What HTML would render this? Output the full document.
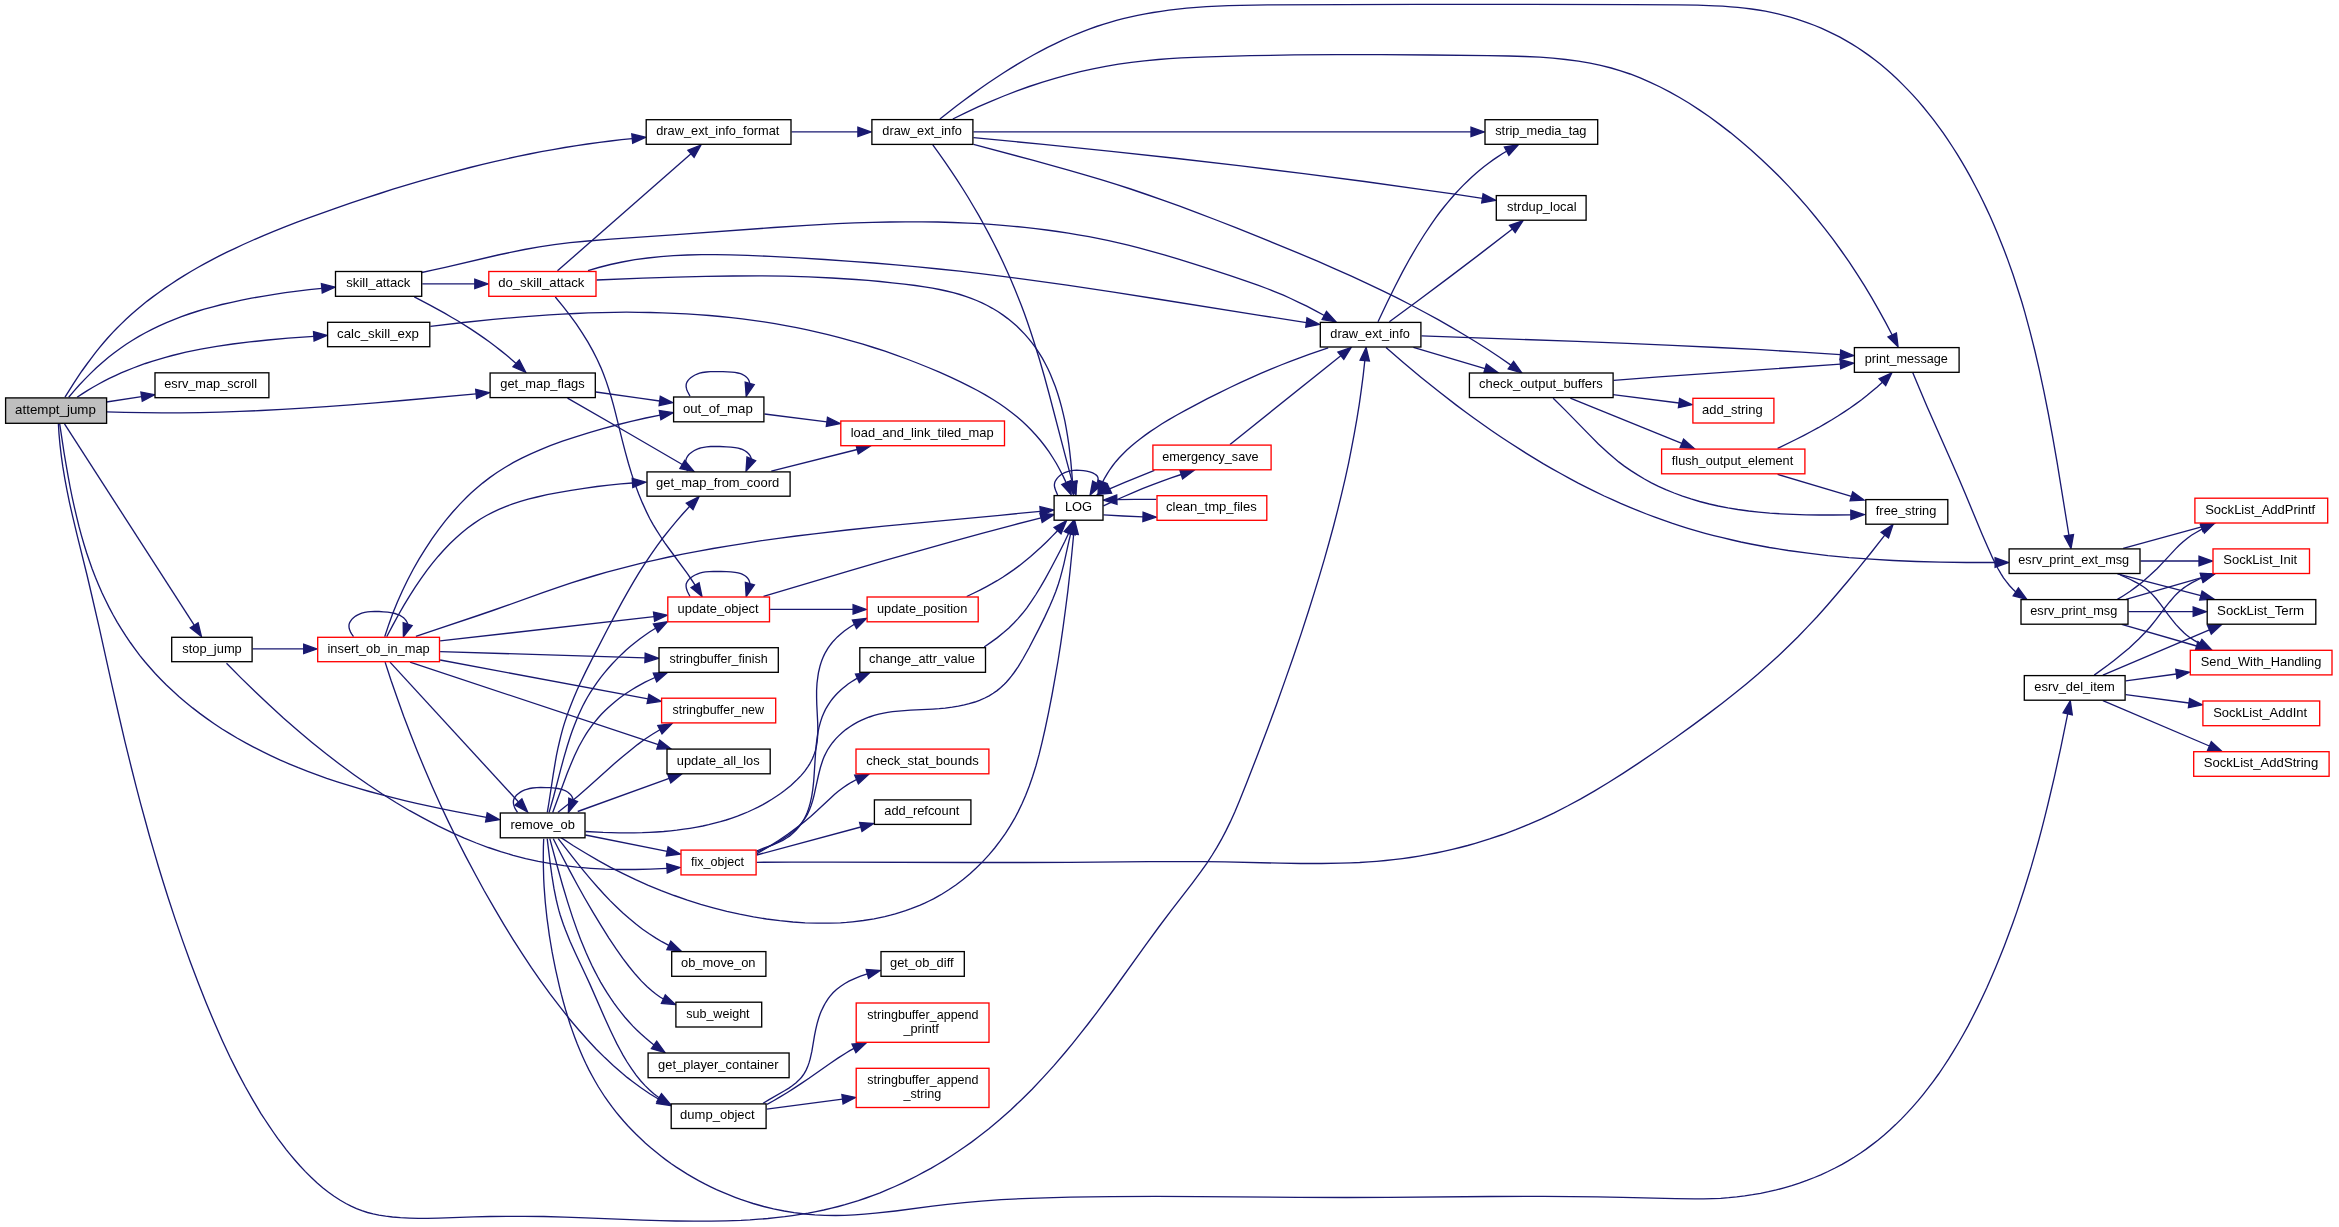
<!DOCTYPE html><html><head><meta charset="utf-8"><title>attempt_jump call graph</title><style>html,body{margin:0;padding:0;background:#fff;overflow:hidden;}svg{display:block;will-change:transform;}text{font-family:"Liberation Sans",sans-serif;font-size:13.33px;fill:#000;}</style></head><body>
<svg xmlns="http://www.w3.org/2000/svg" width="2339" height="1227" viewBox="0 0 2339 1227">
<rect x="0" y="0" width="2339" height="1227" fill="#fff"/>
<g fill="none" stroke="#191970" stroke-width="1.33">
<path d="M65,397.2 73.5,383.6 77.9,376.9 81.9,371 86.6,364.5 90.8,358.8 95.1,353.2 99.5,347.7 104,342.3 107.9,337.8 112.6,332.6 116.8,328.3 121,324.1 126,319.2 131.2,314.5 136.4,310 141.8,305.5 147.2,301.1 152.8,296.9 159.2,292.2 164.9,288.1 171.5,283.7 177.3,279.9 184.1,275.6 190.9,271.5 197.8,267.5 204.8,263.6 211.8,259.9 218.9,256.2 226.9,252.2 235.1,248.3 243.2,244.5 253.3,240 263.5,235.6 273.7,231.4 284.9,226.9 297.1,222.2 309.4,217.7 336.8,207.8 351.1,202.9 365.4,198.1 379.7,193.5 393,189.2 406.4,185.1 419.9,181.1 433.3,177.3 445.9,173.8 470,167.5 482.6,164.3 494.3,161.6 517.7,156.4 529.4,154 541.2,151.7 553,149.6 564.8,147.5 576.7,145.6 587.6,144 599.5,142.3 610.5,141 621.5,139.7 632.2,138.6"/>
<path d="M68.7,397.3 73.9,391.1 79.3,385 84.9,379.1 90.6,373.4 96.4,367.8 102.4,362.5 108.5,357.3 114,353 120.5,348.3 126.2,344.3 132.1,340.5 138.9,336.4 145,333 152,329.3 159.2,325.9 166.5,322.6 173.9,319.6 181.4,316.7 188.9,314 196.6,311.5 204.3,309.2 213,306.8 221.8,304.5 231.7,302.3 241.6,300.2 251.5,298.2 262.4,296.3 274.4,294.3 285.3,292.7 297.3,291.1 309.2,289.7 321.8,288.3"/>
<path d="M77.1,397.3 82.2,393.9 87.3,390.6 92.5,387.5 98.7,384 104,381.1 109.3,378.4 114.8,375.8 121.1,372.9 126.7,370.6 133.2,368 138.8,365.9 145.4,363.5 152,361.3 158.7,359.3 165.5,357.3 172.3,355.5 185.9,352.2 200.8,349.2 216.7,346.4 232.7,344 249.8,341.9 268,340 288.1,338.2 313.8,336.3"/>
<path d="M106.5,402 141.6,396.7"/>
<path d="M106.5,411.8 124.6,412.4 142.7,412.7 161.7,412.9 180.8,412.8 199.9,412.6 220,412.1 240,411.4 261.1,410.5 282.2,409.4 303.2,408.1 326.3,406.6 350.3,404.8 375.3,402.8 402.4,400.5 476.1,393.9"/>
<path d="M64.5,423.9 194.2,625.2"/>
<path d="M59.7,423.9 64,452.3 66,464.2 68.1,476.1 70.1,487 72.1,496.9 74.3,506.8 76.6,516.7 79,526.5 81.4,535.3 83.9,544 86.6,552.7 89.5,561.3 92.2,568.9 95.4,577.3 98.5,584.8 102.1,593 105.6,600.3 109.1,607.4 112.9,614.5 117.3,622.3 121.5,629.2 125.8,635.9 130.3,642.5 134.9,648.9 139.7,655.3 144.7,661.5 149.9,667.5 155.2,673.5 160.7,679.2 166.4,684.9 172.9,691.1 178.8,696.4 185.6,702.2 192.6,707.9 199.7,713.4 206.9,718.6 214.2,723.7 221.7,728.7 229.3,733.4 237,738 245.7,742.9 253.6,747.1 262.6,751.7 270.7,755.6 279.8,759.8 289,763.8 298.3,767.7 307.7,771.3 317.2,774.9 326.7,778.3 337.3,781.8 347.9,785.2 358.6,788.4 369.4,791.5 381.1,794.7 392.9,797.7 404.7,800.6 416.5,803.4 429.3,806.2 442.1,808.9 455.8,811.6 470.5,814.4 486.4,817.4"/>
<path d="M58.4,423.9 59,433.9 60,444.9 61.3,455.8 62.8,466.7 64.8,478.6 67,490.3 69.6,503.1 72.7,516.7 77.1,535.2 87,575 91.8,595.5 99,626.7 112.4,687.2 118.4,713.5 125,741.8 131.7,769 136.1,786.4 140.4,802.9 144.9,819.3 149.4,835.7 153.9,851.1 158.4,866.5 163.1,881.8 167.9,897 175.1,918.9 182.6,940.6 190.4,962.2 198.2,982.8 206.3,1003.2 214.4,1022.6 222.5,1040.9 230.1,1057.2 237.7,1072.4 245.2,1086.5 253.1,1100.4 260.8,1113.3 265.2,1120 269.1,1125.9 273.6,1132.5 277.7,1138.3 281.9,1143.9 286.2,1149.6 290.7,1155.1 294.6,1159.7 299.9,1165.8 305.4,1171.6 311.1,1177.3 316.9,1182.7 323,1187.9 328.5,1192.2 334.1,1196.2 339.9,1200 345.9,1203.5 351.1,1206.2 356.5,1208.6 361.9,1210.7 367.5,1212.5 373.1,1213.9 378.9,1215.1 385.7,1216.2 392.5,1217 400.5,1217.7 409.4,1218.1 418.4,1218.4 427.5,1218.4 438.6,1218.2 473.9,1216.9 489.9,1216.5 506.9,1216.3 523.9,1216.3 543.8,1216.5 564.7,1217.1 585.7,1217.8 642.8,1220.1 659.9,1220.6 675.9,1221 694,1221.2 711,1221.2 726,1220.9 741,1220.4 750,1219.9 758.9,1219.2 767.9,1218.5 775.8,1217.7 784.7,1216.7 792.5,1215.6 800.4,1214.4 808.2,1213.1 816,1211.6 823.8,1210 831.6,1208.2 838.3,1206.5 845,1204.7 851.7,1202.7 858.4,1200.6 866,1198 872.6,1195.6 880.1,1192.8 887.5,1189.7 894.9,1186.5 902.3,1183.2 909.5,1179.7 916.7,1176 923.8,1172.2 930.9,1168.3 937.9,1164.2 944.8,1160.1 951.6,1155.7 958.3,1151.3 964.9,1146.7 971.5,1142.1 977.9,1137.3 988.9,1128.7 999.6,1119.7 1010.7,1109.9 1021.5,1099.7 1032.1,1089.2 1043,1077.6 1053.7,1065.9 1064.7,1053 1072.3,1043.8 1080.4,1033.7 1088.4,1023.5 1096.9,1012.3 1113,990.5 1145.2,945.7 1158.8,927 1171.5,910.2 1192.2,883.3 1200.5,872.2 1206.8,863.3 1212.2,855 1216.9,847.4 1221.3,839.7 1225.9,830.9 1230.3,821.9 1234.8,811.9 1239.5,800.8 1246.6,783.1 1257.9,754 1267.5,728.8 1276.5,704.4 1284.9,680.9 1293.2,657.3 1301.2,633.6 1308.3,611.7 1314,593.6 1319.3,576.4 1324.4,559.1 1329,542.7 1333.5,526.3 1337.7,509.9 1341.5,494.3 1345.2,478.7 1348.6,463.1 1351.5,448.4 1354.3,433.7 1356.9,418.9 1359.3,404.1 1361.4,389.2 1363.2,375.3 1364.8,360.7"/>
<path d="M422.3,283.9 474.8,283.9"/>
<path d="M414.3,296.9 429.5,304.8 444.6,313.1 451.5,317.2 458.5,321.3 471.3,329.4 478,333.9 483.8,337.9 489.6,342 495.2,346.3 500.8,350.6 506.3,355 510.9,358.9 516.1,363.4"/>
<path d="M421.8,272.5 432.5,270.2 445.2,267.4 498,255 511.7,252.1 524.5,249.5 539.3,246.9 554.2,244.7 570,242.7 587.9,241 610.9,239.1 672.8,234.9 773.8,227.5 806.8,225.3 836.8,223.7 854.8,222.9 872.8,222.3 889.9,222 905.9,221.8 921.9,221.8 937.9,222 952.9,222.5 967.9,223.1 979.9,223.7 990.9,224.4 1002.8,225.3 1013.8,226.3 1024.7,227.4 1035.7,228.6 1046.6,230 1057.5,231.5 1068.3,233.1 1078.2,234.8 1089,236.7 1098.9,238.6 1108.7,240.7 1118.5,242.9 1128.2,245.2 1138.9,247.9 1151.6,251.3 1164.2,254.8 1177.7,258.8 1192.1,263.3 1210.3,269.1 1230.2,275.7 1246.3,281.1 1258.5,285.4 1266.8,288.5 1275.2,291.8 1283.4,295.2 1290.7,298.5 1298.7,302.3 1306.8,306.2 1315.7,310.8 1324.3,315.5"/>
<path d="M430.4,326.4 463.3,322.5 493.2,319.4 522.2,316.8 549.2,314.9 562.3,314.1 575.3,313.5 588.3,312.9 601.4,312.6 614.4,312.3 626.4,312.2 638.4,312.3 650.4,312.5 662.4,312.8 674.4,313.3 686.4,313.9 697.4,314.6 709.4,315.5 720.3,316.5 731.3,317.6 742.2,318.9 753.1,320.4 764,321.9 774.9,323.7 785.7,325.6 796.6,327.7 807.4,329.9 818.2,332.3 827.9,334.7 839.6,337.6 851.3,340.8 862.9,344.2 873.5,347.5 885,351.2 895.4,354.8 906.8,359 917.1,363 928.3,367.5 939.4,372.2 950.5,377.2 960.5,381.9 969.5,386.3 977.5,390.5 985.3,394.9 993,399.5 999.6,403.8 1005.3,407.8 1011.6,412.5 1017,416.8 1022.2,421.3 1027.2,426 1031.4,430.2 1036,435.3 1040.5,440.5 1044.8,446 1048.9,451.7 1052.7,457.5 1056.4,463.5 1059.8,469.7 1063.1,476.1 1066.1,482.6"/>
<path d="M557.5,270.8 691,153.8"/>
<path d="M588,270.6 598.7,267.5 610.4,264.5 622.2,262 635,259.7 647.8,258 660.7,256.6 673.6,255.6 687.5,255 701.5,254.6 715.5,254.6 730.5,254.8 747.5,255.4 770.6,256.4 798.7,257.9 824.7,259.5 850.8,261.3 873.8,263 895.8,264.9 917.8,266.9 938.8,269 959.7,271.2 980.6,273.6 1002.5,276.3 1025.4,279.3 1067,285.2 1113.6,292.1 1157.2,299 1258.1,315.1 1306.4,322.6"/>
<path d="M596.6,280 642.8,278.2 675.9,277.1 705.8,276.4 732.8,276 759.8,275.9 784.8,276.2 808.8,276.9 831.8,278 855.9,279.5 868,280.4 880.1,281.5 892.2,282.8 904.3,284.1 915.4,285.5 924.5,286.8 932.5,288.2 939.5,289.5 946.4,291 953.2,292.6 959.9,294.5 965.6,296.3 971.2,298.3 976.6,300.5 982,302.9 987.3,305.5 992.4,308.3 998.2,311.8 1003.1,315.1 1007.8,318.6 1012.3,322.3 1016.7,326.1 1020.9,330.2 1024.9,334.4 1028.8,338.9 1032.4,343.4 1035.9,348.2 1039.2,353.1 1042.3,358.2 1045.2,363.5 1047.9,368.8 1050.4,374.3 1052.7,379.9 1055.3,386.6 1057.6,393.3 1059.7,400.2 1061.6,407.1 1063.3,414.1 1064.9,421.1 1066.2,428.2 1067.6,436.3 1068.8,444.3 1069.8,452.4 1070.8,461.4 1071.7,471.4 1072.5,481.6"/>
<path d="M555.3,297 563,306.4 569.8,315.2 576.4,324.2 582.5,333.3 587.8,341.9 592.7,350.6 597.2,359.5 600.9,367.6 603.5,374.1 606.3,381.6 608.8,389.2 611.4,397.8 613.6,405.6 615.6,413.4 622.4,440.9 625.2,451.7 628.4,463.3 631.6,473.9 635.1,484.4 638.6,493.7 642.4,502.9 646.5,511.9 649.6,518.2 653,524.3 656.5,530.2 660.9,537 664.8,542.8 668.9,548.5 687.4,573.7 691.4,579.5 695.1,585.1"/>
<path d="M595.9,392 639.4,398.2 659.7,401"/>
<path d="M567.5,398.2 629,433.5 682.3,464.5"/>
<path d="M252.7,648.9 303.7,648.9"/>
<path d="M226.5,663.3 241.2,678.1 255.5,692.1 269.3,705.1 283.4,718 297.8,730.5 311.7,742.2 325.8,753.6 339.4,764 354,774.7 368,784.5 382.3,794 395.9,802.5 409.7,810.7 423.8,818.4 438,825.8 451.5,832.4 464.3,838.1 476.3,843 488.4,847.5 500.7,851.6 513.1,855.3 525.6,858.6 538.3,861.4 551,863.7 563.9,865.7 576.8,867.2 590.8,868.3 604.9,869.1 620,869.5 635.1,869.5 650.2,869.1 667,868.3"/>
<path d="M353.5,636.6 351.8,634.1 350.7,632.4 349.9,630.6 349.3,628.8 349,627 349,625.2 349.1,624.3 349.7,622.6 350.6,621 351.8,619.4 353.2,618 355.6,616.1 357.3,615.1 360,613.8 361.8,613.1 364.7,612.3 367.6,611.8 370.7,611.6 374.8,611.4 379.1,611.5 383.5,611.8 387.8,612.1 392,612.8 395,613.5 397.9,614.5 399.6,615.2 402.1,616.7 403.6,617.8 404.9,619.1 406,620.5 406.9,622 407.3,622.8 407.7,624.2"/>
<path d="M384.7,636.7 388.8,624.4 392.9,613.1 397.4,602 402.3,591 407.5,580.2 413.1,569.5 419,559.1 425.4,548.8 432.1,538.7 438.6,529.6 445.3,520.8 452.5,512.3 459.9,504.1 466.9,497 471.3,492.8 475,489.5 482.6,483.1 489.7,477.6 497,472.5 504.5,467.7 513.1,462.7 521.8,458.1 530.8,453.8 540,449.8 550.2,445.7 562.5,441.2 574.9,437.1 588.4,432.9 602.9,428.6 616.5,425 631.1,421.4 645.8,418 660.1,415.1"/>
<path d="M386.7,636.7 392.7,625.4 398.5,614.8 404,605.2 409.8,595.6 415.2,587.1 421,578.6 426.9,570.4 432.5,563.2 438.3,556.2 443.6,550.2 449.8,543.7 455.6,538.2 461.5,533 467.6,528 474,523.4 480.5,519 486.5,515.5 492.6,512.3 498.9,509.4 506.2,506.3 512.8,503.9 520.5,501.4 528.2,499.2 537.1,497 547.1,494.7 558.1,492.6 571.1,490.3 584.1,488.3 597,486.5 608.9,485.1 620.9,483.9 632.5,483"/>
<path d="M415.9,636.4 436.7,629.3 476.6,616 492.7,610.5 507.9,605.2 542.8,592.7 558,587.4 571.3,582.9 583.7,579 595.2,575.5 606.8,572.2 618.3,569.1 630.9,565.8 643.6,562.7 656.2,559.8 668.9,557 682.7,554.2 697.4,551.4 713.1,548.5 728.9,545.8 744.8,543.3 761.6,540.7 778.4,538.4 796.3,536 814.2,533.8 847.1,530 884,526.2 919,522.8 999.8,515.3 1040.3,511.3"/>
<path d="M440.1,640.9 654.1,616.7"/>
<path d="M440.1,651.6 645.1,657.9"/>
<path d="M440.1,660 648,698.9"/>
<path d="M410,662.1 658.3,744.6"/>
<path d="M390,662.1 518.5,802"/>
<path d="M385.1,662.1 391,680.3 397.3,698.3 403.7,716.3 410.5,734.1 417.5,751.7 424.8,769.3 432.3,786.7 440.5,804.9 448.6,822.1 457,839.2 465.6,856.1 475,873.8 484.1,890.5 494.1,907.9 503.8,924.4 513.3,939.8 522.5,954.2 531.4,967.7 540.6,980.9 550,993.9 559.8,1006.7 569.1,1018.5 578.2,1029.2 587.5,1039.7 596.3,1049.2 604.8,1057.6 613.5,1065.8 622.5,1073.6 627.1,1077.4 631.8,1081 640.6,1087.5 649.7,1093.7 658.8,1099.2"/>
<path d="M517.5,812.4 515.9,809.8 514.9,808.1 514.2,806.3 513.6,804.4 513.4,802.7 513.4,800.9 513.6,800 514.2,798.4 515.2,796.8 516.4,795.3 517.9,793.9 520.4,792.1 522.1,791.1 524.8,789.9 526.7,789.3 529.6,788.5 532.5,788 536.6,787.6 540.7,787.5 546.1,787.6 550.4,787.7 554.7,788.1 557.9,788.5 560.9,789.1 563.7,790 565.5,790.8 567.9,792.2 569.3,793.4 570.6,794.7 571.7,796.1 572.5,797.7 572.8,798.5 573.2,800"/>
<path d="M547.3,812.4 549.1,801.5 553.2,774.6 555.2,762.7 556.4,755.7 557.8,748.8 559.4,742 560.8,736.1 562.6,729.4 564.3,723.6 566.5,717 568.8,710.4 571.3,703.9 573.9,697.4 577.1,690.1 580.4,682.8 585.6,671.9 591.9,659.4 606.7,630.8 615.1,614.9 621.7,602.6 627.6,592.1 633.1,582.6 638.8,573.1 644.7,563.8 650.9,554.7 657.2,545.6 663.2,537.5 670.1,528.8 676.5,521.1 683.1,513.5 689.7,506.3"/>
<path d="M549.1,812.4 553.5,797 560.9,768.7 563.8,757.9 567.2,746.3 570.2,736.7 572.2,731 574.3,725.4 576.5,719.9 578.4,715.3 580.5,710.7 582.6,706.3 584.9,701.9 587.3,697.5 590.4,692.4 593.7,687.4 597.1,682.4 600.6,677.6 604.4,672.9 608.3,668.3 612.3,663.8 616.5,659.4 621.5,654.4 625.9,650.3 630.5,646.3 635.2,642.5 640,638.8 644.9,635.2 649.9,631.8 655.6,628.2"/>
<path d="M552.7,812.4 556.2,803 567.1,773.6 570.9,764.2 574.5,755.8 578.8,746.8 583.1,739 585.7,734.7 587.8,731.4 590.1,728.1 592.4,724.9 594.9,721.8 598.1,718 601.4,714.3 604.9,710.8 607.8,708 611.5,704.7 615.3,701.4 619.3,698.3 623.4,695.3 627.5,692.5 631.8,689.7 636.1,687.1 640.6,684.6 645.1,682.2 649.6,680 655,677.5"/>
<path d="M558,812.3 567.5,804.8 577.5,796.4 587.5,787.7 614.8,763.3 622.5,756.7 629.6,750.9 637.5,744.6 644.8,739.3 652.4,734.3 659.9,729.7"/>
<path d="M577.7,811.5 669.2,778.4"/>
<path d="M585.5,831.5 603.1,832.4 619.1,832.8 634.2,832.8 642.3,832.7 649.4,832.4 656.6,832 663.7,831.5 670.8,830.8 676.8,830.2 683.9,829.2 689.9,828.3 696.9,827.1 702.8,826 708.7,824.7 714.6,823.2 720.4,821.7 726.2,820 731.9,818.1 737.5,816.1 743.1,813.9 747.7,812 753.1,809.5 757.6,807.4 762.9,804.6 767.2,802.1 772.3,799 776.5,796.3 780.6,793.5 784.6,790.5 790.9,785.4 796.1,780.6 798.9,777.8 801,775.6 804.8,771.1 808.1,766.3 809.7,763.8 811.1,761.3 812.4,758.7 813.5,756.1 814.5,753.4 815.4,750.7 816.3,746.9 817.1,742.1 817.5,738.2 817.8,733.1 817.8,728 817.7,722.8 816.8,705 816.6,697.6 816.6,690.4 817,683.2 817.9,676.3 818.5,672.4 819.2,669.5 820.1,665.7 821,662.9 821.9,660.2 823,657.5 824.2,654.9 825.5,652.3 828,648.2 829.6,645.8 831.4,643.5 833.3,641.2 835.3,639.1 837.4,636.9 839.6,634.9 844.3,631 849.3,627.5 854.4,624.3"/>
<path d="M585.4,835 667.2,851.4"/>
<path d="M560.7,837.4 573.4,845.7 585.4,853 598.4,860.6 610.6,867.3 623.1,873.6 635.6,879.6 648.3,885.3 661.2,890.6 674.2,895.5 687.4,900.1 700.7,904.3 713.2,907.8 726.8,911.3 739.6,914.1 753.5,916.8 766.5,919 779.7,920.7 792.9,922 805.1,922.8 817.2,923.2 829.4,923.2 840.5,922.8 846.5,922.4 852.5,921.8 863.4,920.5 874.1,918.8 880,917.6 884.8,916.6 890.5,915.2 895.3,913.9 900.9,912.2 905.6,910.7 911.1,908.7 915.7,906.9 920.2,905.1 924.7,903.1 929.1,901 933.5,898.8 937.9,896.4 942.1,894 948.8,889.8 956.2,884.7 963.4,879.3 970.3,873.5 976.2,868 982.7,861.6 988.9,854.9 994.7,848 1000.3,840.7 1005.5,833.3 1010.4,825.7 1014.5,818.7 1018.2,811.6 1022.1,803.5 1025.7,795.3 1029.3,786 1032.6,776.5 1035.9,766 1039.1,754.4 1042,742.7 1045.1,729 1048.6,712.3 1051.9,695.5 1055.1,677.7 1058,661 1060.8,643.2 1063.2,626.3 1065.6,608.5 1067.9,590.6 1070,571.7 1071.9,552.8 1073.7,534.1"/>
<path d="M558.2,838.7 576.8,862.4 584.5,871.8 591,879.6 597.7,887.3 603.8,894 610.1,900.6 616.6,907 623.2,913.3 629.3,918.6 636.2,924.3 642.6,929.2 649.2,933.8 655.9,938.1 661.9,941.7 668.8,945.4"/>
<path d="M553.3,838.7 561.5,855 569.4,870.1 577,884.3 584.8,898.3 592.9,912.2 600.8,925.2 608.9,938.1 616.3,949.2 622.8,958.4 629,966.5 635.4,974.3 641.5,981.1 647.2,986.8 652.4,991.3 655.5,993.8 657.9,995.5 660.4,997.2 663.4,999"/>
<path d="M549.8,838.7 557.6,867.5 562.5,885 567.5,901.6 572.5,917.1 577.6,931.6 580.5,939.2 583.2,945.8 585.9,952.3 588.8,958.8 591.8,965.2 594.5,970.6 597.7,976.8 600.6,982.1 604.2,988.1 607.3,993.2 610.6,998.2 614,1003.1 617.5,1007.9 621.2,1012.6 624.9,1017.2 628.9,1021.7 632.9,1026.1 636.5,1029.7 640.8,1033.8 645.3,1037.8 650,1041.7 654,1044.9"/>
<path d="M547.2,838.7 550.1,862.7 551.9,875.7 554,888.7 556.2,899.5 557.6,905.4 558.8,910.2 560.2,915 561.8,919.8 563.4,924.5 565.5,930.1 570,941.2 575.3,953 586,975.7 590.2,984.9 604.4,1017.2 610.2,1030 613.7,1037.3 616.8,1043.6 620.1,1049.8 623,1055.1 627.1,1062 631.5,1068.7 636.1,1075.1 640.4,1080.5 645.1,1085.6 649.3,1089.8 653.8,1093.7 656.1,1095.5 659.1,1097.7"/>
<path d="M543.7,838.7 543.4,846.7 543.3,854.7 543.3,862.7 543.5,870.7 543.7,878.7 544.1,886.6 544.7,894.6 545.3,902.5 547,918.3 548.1,926.2 549.3,935.1 550.6,943 552.1,951.9 553.8,960.7 555.6,969.6 559.4,986.3 561.3,994.2 563.4,1002 565.6,1009.8 567.7,1016.5 570.1,1024.2 572.4,1030.9 574.8,1037.5 577.3,1044.1 580,1050.6 582.8,1057 585.7,1063.3 588.8,1069.6 592.1,1075.8 595,1081 598.5,1087 601.7,1092 604.9,1097 608.4,1101.9 611.9,1106.7 615.5,1111.4 619.3,1116 623.8,1121.3 627.8,1125.7 631.9,1130 636.1,1134.3 641.1,1139.1 645.5,1143.2 650.8,1147.8 655.4,1151.6 660.9,1156 665.6,1159.6 671.3,1163.7 676.3,1167.1 682.2,1170.9 687.3,1174.1 693.3,1177.6 698.6,1180.6 704.8,1183.9 710.2,1186.6 716.5,1189.6 723,1192.4 728.5,1194.7 735.1,1197.3 740.7,1199.4 747.4,1201.6 753.1,1203.5 763.7,1206.5 773.5,1208.8 784.2,1211 794.1,1212.7 805,1214 814.9,1214.9 824.8,1215.4 835.7,1215.5 844.7,1215.4 854.6,1214.9 864.6,1214.2 875.5,1213.2 895.5,1211 932.4,1206.2 947.3,1204.4 964.3,1202.6 981.2,1201.1 1001.2,1199.7 1022.1,1198.6 1045.1,1197.8 1070.1,1197.1 1090,1196.8 1111,1196.6 1156.1,1196.4 1199.1,1196.6 1298.2,1197.4 1346.3,1197.5 1388.3,1197.3 1490.4,1196.5 1543.4,1196.4 1571.4,1196.6 1597.4,1196.9 1622.4,1197.4 1675.5,1198.7 1694.6,1198.9 1703.6,1198.9 1712.6,1198.6 1720.7,1198.3 1728.7,1197.7 1736.7,1196.9 1744.7,1195.9 1752.6,1194.7 1760.6,1193.3 1768.5,1191.7 1776.3,1189.9 1784.1,1187.8 1791.8,1185.6 1799.4,1183.1 1806.9,1180.4 1814.4,1177.5 1820.8,1174.8 1828,1171.5 1835.1,1168 1842.1,1164.3 1848.1,1160.9 1854,1157.3 1860.6,1153 1866.2,1149.1 1872.5,1144.4 1877.9,1140.2 1883.9,1135.2 1889.8,1130 1895.6,1124.6 1901.2,1119.1 1906.7,1113.4 1912,1107.6 1917.9,1100.9 1922.9,1094.8 1928.5,1087.7 1933.3,1081.3 1938.6,1074 1943.7,1066.5 1948.7,1058.9 1953.5,1051.2 1958.7,1042.5 1963.3,1034.5 1968.2,1025.6 1972.9,1016.5 1977.5,1007.4 1981.9,998.2 1986.7,988 1991.2,977.8 1995.6,967.5 1999.9,957.1 2004.3,945.9 2008.6,934.6 2012.7,923.4 2016.7,912.1 2020.5,900.8 2024.2,889.5 2027.7,878.2 2031.2,866.9 2034.7,854.6 2038.2,842.2 2041.5,829.8 2044.7,817.4 2048,804 2054.4,776.9 2060.8,747.6 2067.7,713.9"/>
<path d="M791.6,131.9 857.9,131.9"/>
<path d="M690,396.3 687.7,391.8 686.9,390 686.4,388.2 686.1,386.4 686.2,384.6 686.3,383.8 687,382.1 687.9,380.6 689.2,379.1 690.7,377.8 693.3,376 695,375 697.7,373.9 699.6,373.2 702.4,372.5 706.3,372 710.3,371.7 714.4,371.6 723,371.7 727.4,371.8 731.7,372.1 734.9,372.4 737.9,373 740.6,373.7 742.3,374.4 744.7,375.7 746,376.7 747.2,377.9 747.8,378.6 748.7,380 749.3,381.5 749.7,383.4"/>
<path d="M764.5,414 826.9,421.8"/>
<path d="M687.5,471.2 686.6,468.3 686.1,466.3 685.8,464.4 685.7,462.4 685.8,460.6 686.3,458.8 686.6,457.9 687.5,456.3 688.7,454.8 690.1,453.4 691.7,452.2 694.3,450.5 696.2,449.6 699,448.5 700.8,447.9 703.7,447.3 706.6,446.9 710.6,446.5 714.7,446.5 719.9,446.5 726.5,446.8 730.9,447.1 735.1,447.6 738.2,448.2 741,449 742.8,449.7 745.3,451 746.8,452.1 748.8,454 749.9,455.4 750.7,456.9 751,457.7 751.3,459"/>
<path d="M771.3,471.2 857.2,449.5"/>
<path d="M690,596.5 687.7,592 686.9,590.1 686.4,588.3 686.1,586.5 686.1,584.7 686.2,583.9 686.9,582.2 687.9,580.6 689.2,579.1 690.7,577.8 693.3,576 695.1,575 697.8,573.8 699.7,573.1 702.5,572.4 705.4,571.9 709.4,571.6 713.4,571.4 720.9,571.5 726.5,571.6 730.9,571.9 735.1,572.3 738.1,572.9 740.9,573.7 742.6,574.4 745,575.7 746.3,576.8 747.5,578 748,578.6 748.9,580.1 749.5,581.6 749.7,582.4 749.9,583.7"/>
<path d="M770.1,609.4 853.1,609.4"/>
<path d="M763.5,596.4 809.8,582.6 849.3,570.9 885.1,560.4 918.9,550.8 950.9,541.8 981.9,533.3 1012.1,525.3 1041.1,517.8"/>
<path d="M756.5,851 761.2,849.1 772.7,844.9 777.4,843 780.1,841.7 782.8,840.4 787,837.8 789.5,836.1 791.7,834.3 793.9,832.3 796,830.3 797.9,828.1 799.7,825.9 801.4,823.5 803.5,820.2 804.8,817.7 806.1,815.1 807.2,812.4 808.2,809.7 809.1,806.9 810.2,803.1 811.7,796.3 812.8,789.3 813.7,781.1 814.2,773.9 815.6,752.1 816.1,746 816.8,740 817.8,733.1 819,727.3 820.6,721.6 822.1,717.1 823.6,713.5 824.8,710.9 826.1,708.3 827.6,705.8 829.2,703.3 830.9,700.9 832.7,698.5 835.3,695.5 837.4,693.3 840.3,690.5 842.5,688.5 845.7,685.9 848.1,684 851.5,681.7 854.1,680.1 857.4,678.2"/>
<path d="M757,853.8 768.2,847 778.5,840.5 787.7,834.3 795.8,828.4 803.8,822.3 810.7,816.5 816.7,811.1 830.7,797.9 834.4,794.5 838.3,791.3 843,787.7 847.2,784.9 851.4,782.3 856.5,779.5"/>
<path d="M756.7,855 860.8,827"/>
<path d="M756.4,852.4 765.7,848.2 773,844.6 779.2,841.1 785.2,837.4 788.4,835.2 790.8,833.4 795.2,829.7 797.3,827.7 799.3,825.6 801.2,823.5 802.9,821.3 805.6,817.4 807.5,814.1 809.5,809.8 811.2,805.2 812.7,800.5 814,795.6 815.3,789.6 818.4,775.5 820.4,767.5 821.6,763.7 822.9,759.8 824.4,756.1 825.7,753.5 827.5,750 830.2,745.8 832.5,742.7 835.7,738.9 838.4,736.1 842,732.7 845.8,729.6 849.9,726.7 853.2,724.6 857.5,722.1 861.1,720.4 865.7,718.4 869.4,717 874.1,715.4 878.8,714.2 883.7,713.1 887.6,712.4 892.5,711.7 901.4,710.8 910.5,710.2 932.9,709.1 939.1,708.7 945.2,708.1 952.3,707.2 958.4,706.2 964.3,704.9 969.2,703.7 974.9,702 979.5,700.3 984.8,698 989.1,695.8 993.2,693.3 997.1,690.6 1000.8,687.5 1004.3,684.2 1006.3,682.2 1008.9,679.2 1011.4,676.2 1013.8,673 1018.4,666.4 1023.1,658.5 1029.1,647.7 1039,628.6 1044.8,616.9 1049.8,606.1 1052.9,598.8 1055.8,591.5 1058.4,584 1060.4,577.4 1062.2,570.6 1063.9,563.8 1068.9,541.2 1070.7,533.7"/>
<path d="M756.7,862.3 791.7,862.1 830.7,862.1 969,862.5 1023.1,862.5 1069.1,862.3 1148.9,861.7 1182.9,861.6 1205,861.7 1225,861.9 1280.4,863.2 1300.5,863.5 1321.6,863.5 1340.7,863.2 1350.7,862.9 1359.7,862.5 1368.7,861.9 1376.6,861.3 1385.6,860.5 1393.5,859.7 1402.4,858.6 1410.3,857.5 1419.1,856.1 1427,854.7 1435.8,853 1443.5,851.4 1452.3,849.4 1460,847.5 1467.7,845.5 1475.3,843.3 1489.6,838.9 1502.8,834.5 1515.8,829.6 1528.7,824.4 1541.5,818.8 1554.2,812.8 1567.5,806 1580.8,798.8 1594.7,790.8 1608.5,782.5 1623,773.4 1638.2,763.4 1655.7,751.5 1674.7,738.3 1692.6,725.4 1709.5,712.9 1722.2,703.2 1734.8,693.3 1746.3,683.9 1757.8,674.3 1768.2,665.1 1778.5,655.7 1788.6,646.1 1797.8,637 1807.5,626.9 1817.1,616.7 1827.1,605.5 1837.6,593.3 1848,581 1858.8,567.8 1870.8,553 1884.8,535.1"/>
<path d="M763.1,1103.3 769.1,1099.6 784.5,1090.8 788.9,1088.1 792.2,1085.8 796.1,1082.7 798.9,1080.1 800.9,1078 802.1,1076.5 804.3,1073.4 806.1,1070.1 807.7,1066.6 809,1062.9 810.1,1059.1 811,1055.2 811.9,1051.2 814.5,1035.7 815.7,1029.6 817.1,1023.6 818.8,1017.8 820.1,1014.1 821.2,1011.3 823.7,1006.1 825.1,1003.5 826.6,1001.1 828.2,998.7 829.9,996.4 833,992.8 836.5,989.5 840.4,986.5 844.5,983.7 849,981.2 854.6,978.6 860.5,976.2 867.4,973.9"/>
<path d="M767,1104.4 773.1,1101 780.1,1096.9 787,1092.7 793.8,1088.4 801.4,1083.4 809,1078.3 830.4,1063.2 837.9,1058.1 846.4,1052.7 849.8,1050.7 854,1048.4"/>
<path d="M766.7,1109.1 842.5,1099.2"/>
<path d="M973.5,131.9 1471,131.9"/>
<path d="M973.5,137.6 1043.4,144.4 1111.3,151.3 1177.2,158.5 1241,165.9 1303.7,173.6 1364.5,181.5 1424.1,189.8 1452.9,193.9 1482.4,198.3"/>
<path d="M973.5,144.4 1032.6,160.2 1068.4,170.1 1085.7,175.1 1101,179.7 1116.3,184.4 1130.6,189 1146.7,194.5 1162.8,200.1 1179.7,206.2 1197.5,212.8 1216.2,220 1235.8,227.7 1258.2,236.6 1279.5,245.3 1299,253.4 1317.5,261.2 1334.9,268.8 1351.4,276.2 1366.9,283.3 1382.2,290.7 1396.6,297.7 1410.9,305 1425,312.5 1438.2,319.7 1451.2,327.1 1463.3,334.2 1476.1,342 1487.9,349.5 1499.6,357.3 1510.9,365.1"/>
<path d="M932.8,144.9 939.3,153.9 945.1,162.1 951.4,171.3 956.9,179.7 962.9,189 968.2,197.5 973.8,207 978.9,215.7 984.2,225.3 989,234.1 993.6,243 998.1,251.9 1002.8,261.8 1007,270.9 1011,280.1 1014.9,289.3 1021.2,305.1 1024.4,313.5 1027.4,322 1030.3,330.5 1033.4,340 1039.4,359.2 1044.4,376.5 1049.4,395 1065.9,458.2 1072.3,482.1"/>
<path d="M952.8,119 965.4,112.9 978,106.9 990.9,101.3 1003.8,96 1017,90.9 1029.2,86.5 1042.6,82.1 1055.1,78.3 1067.6,74.8 1080.3,71.7 1093,68.8 1105.7,66.3 1118.5,64.2 1131.4,62.3 1144.3,60.8 1158.3,59.5 1169.2,58.6 1181.2,57.9 1194.2,57.3 1208.2,56.8 1250.2,55.7 1294.2,54.9 1336.2,54.6 1381.2,54.6 1430.4,55 1487.7,55.6 1508.8,56 1524.9,56.5 1539.9,57.2 1552.8,58.2 1565.7,59.5 1578.4,61.2 1590.1,63.2 1600.7,65.4 1611.2,68 1620.7,70.8 1630.1,74 1640.2,77.9 1650.3,82.3 1660.2,87 1670,92.1 1679.6,97.5 1689.2,103.3 1699.3,109.9 1709.4,116.8 1720,124.6 1730.4,132.6 1740.6,141 1750.5,149.5 1761,158.9 1770.5,167.9 1779.7,177 1788.7,186.4 1798.2,196.7 1806.7,206.4 1815.7,217.2 1824.4,228.1 1832.9,239.2 1841.1,250.5 1849.1,261.9 1856.8,273.6 1864.3,285.4 1871.5,297.4 1878.5,309.6 1885.3,321.9 1892.2,335"/>
<path d="M939.9,119 956.1,106.3 964.1,100.3 972.1,94.4 980.3,88.5 987.8,83.3 995.3,78.3 1002.9,73.3 1010.6,68.4 1018.4,63.6 1026.3,59 1033.3,55 1040.5,51.1 1047.6,47.4 1054.9,43.8 1062.1,40.3 1069.5,37 1075.9,34.3 1083.4,31.3 1089.9,28.8 1096.5,26.5 1103.1,24.3 1109.8,22.3 1116.4,20.4 1123.1,18.7 1130.8,16.8 1137.6,15.4 1145.4,13.9 1153.2,12.5 1161,11.3 1168.9,10.2 1177.8,9.2 1186.7,8.2 1196.6,7.4 1206.5,6.7 1217.5,6.1 1228.5,5.7 1240.6,5.3 1267.7,4.9 1417,4.4 1527.9,4.3 1632.1,4.6 1678.4,4.9 1697.6,5.2 1714.7,5.8 1722.7,6.2 1730.7,6.8 1737.7,7.4 1744.6,8.1 1751.5,9 1758.4,10 1765.3,11.2 1771.2,12.4 1777.9,13.9 1783.7,15.3 1790.4,17.2 1796.1,18.9 1802.7,21.1 1808.4,23.1 1814.8,25.5 1821.2,28.2 1827.6,31.1 1833.8,34.1 1839.9,37.2 1846,40.6 1852,44.1 1857.8,47.8 1863.5,51.6 1869.2,55.6 1874.7,59.8 1880.2,64.1 1885.5,68.5 1891.5,73.8 1896.6,78.5 1902.3,84.1 1907.2,89.1 1912.7,94.9 1918.1,100.9 1923.3,107 1928.4,113.3 1933.4,119.7 1938.2,126.1 1943,132.7 1947.6,139.4 1952.6,147 1957,153.9 1961.7,161.7 1965.8,168.7 1970.3,176.7 1974.6,184.7 1978.8,192.8 1982.4,200 1986.3,208.1 1990.1,216.3 1993.7,224.5 1997.2,232.8 2000.6,241.2 2003.9,249.5 2007.1,257.9 2013.1,274.8 2018.9,292.8 2021.9,302.3 2024.7,311.9 2029.9,331.1 2034.8,350.5 2039.3,369.9 2043.9,391.4 2048.4,414 2052.6,436.7 2057.1,462.4 2061.6,490.1 2068.9,535.2"/>
<path d="M966.7,596.5 974,593 980.4,589.9 986.6,586.6 991.9,583.7 997.1,580.7 1003.1,577 1008.1,573.6 1013.9,569.6 1019.6,565.4 1025.1,561 1030.6,556.5 1035.9,551.8 1041.2,547 1047,541.4 1052,536.4 1057.5,530.7"/>
<path d="M984.2,647 990.8,642.4 997.4,637.6 1003.6,632.5 1008.9,627.9 1013.9,623 1018,618.6 1022.6,613.3 1026.9,607.8 1031.5,601.2 1035.9,594.5 1040.7,586.7 1045.2,578.8 1051.5,567.2 1060.4,550.2 1064.9,541.2 1068.6,533.2"/>
<path d="M1057.6,494.9 1055.6,490.3 1054.7,487.5 1054.4,485.6 1054.4,484.7 1054.5,483.8 1054.9,482 1055.8,480.3 1056.9,478.6 1058.2,477.1 1059.7,475.7 1061.3,474.5 1063,473.5 1064.7,472.6 1067.5,471.6 1070.5,470.8 1073.5,470.4 1076.7,470.2 1080,470.3 1083.4,470.6 1086.7,471.1 1089.8,471.9 1092.7,472.9 1095.1,474.2 1096.3,475.1 1097.3,476.2 1097.9,477.4 1098.1,478.8 1098,480.2 1097.5,481.7 1096.8,483.3"/>
<path d="M1103.5,505.8 1113.6,501.1 1122.9,497 1133.1,492.6 1142.4,488.7 1152.8,484.6 1162.2,481.1 1171.8,477.7 1181.2,474.5"/>
<path d="M1103.5,514.9 1123.2,516 1143,516.8"/>
<path d="M1154.4,470.4 1124.8,482.4 1109.6,488.8"/>
<path d="M1156.3,499.3 1134.6,499.3 1116.8,499.6"/>
<path d="M1230,444.4 1340.8,355.7"/>
<path d="M1328.2,347.9 1318.6,351.1 1309.1,354.4 1299.7,357.8 1290.3,361.3 1281,365 1270.9,369.1 1260.8,373.4 1250.8,377.8 1240.8,382.4 1230,387.5 1219.1,392.8 1207.4,398.7 1195.7,404.8 1185.8,410.1 1176.9,415 1168.9,419.6 1162,423.8 1156,427.7 1150.1,431.6 1145.2,435.1 1140.4,438.7 1135.6,442.5 1131.1,446.3 1126.6,450.3 1122.4,454.5 1119,458 1115.8,461.7 1112.8,465.5 1109.9,469.5 1107.3,473.6 1104.8,477.8 1102.7,481.9"/>
<path d="M1378,321.8 1387,302.8 1395,286.5 1402.4,272.1 1409.7,258.8 1416.9,246.5 1424.4,234.5 1431.7,223.6 1435.7,217.9 1439.3,213 1443.6,207.5 1447.4,202.8 1451.3,198.2 1455.2,193.8 1459.3,189.4 1463.4,185.1 1467.7,180.9 1471.3,177.5 1475.8,173.5 1479.6,170.3 1484.2,166.5 1488.2,163.5 1493.1,159.9 1497.2,157.1 1502.3,153.8 1506.6,151.2"/>
<path d="M1389.4,321.8 1418.6,300.2 1448.5,277.9 1479.8,254.1 1512.4,229"/>
<path d="M1413.4,347.4 1485,368.7"/>
<path d="M1421.5,335.8 1577,341.4 1627.2,343.4 1672.3,345.3 1717.4,347.5 1760.5,349.7 1801.6,352.1 1840.4,354.6"/>
<path d="M1386,347.4 1403.3,362.4 1420.9,377.2 1438.8,391.6 1456.3,405.1 1465.2,411.8 1474.1,418.3 1491.4,430.5 1500.6,436.7 1509,442.3 1525.9,453.1 1534.5,458.4 1543.1,463.6 1551.8,468.6 1560.6,473.5 1569.4,478.4 1578.2,483.1 1587.1,487.6 1595.2,491.6 1604.2,496 1612.4,499.7 1620.6,503.4 1628.9,506.9 1638.1,510.7 1646.5,514 1654.9,517.2 1663.3,520.2 1671.8,523.2 1679.3,525.6 1687.9,528.3 1696.5,530.9 1705.1,533.3 1713.8,535.6 1722.5,537.7 1732.2,540 1740.9,542 1750.7,544 1769.4,547.5 1788.2,550.5 1808,553.2 1828,555.6 1849,557.6 1871,559.2 1893.1,560.5 1916.3,561.5 1940.4,562.1 1966.5,562.5 1995.1,562.5"/>
<path d="M1613.7,380.3 1658.9,376.9 1709.1,373.3 1840.4,364.1"/>
<path d="M1613,394.7 1679,403"/>
<path d="M1570.3,398.1 1681.8,443.4"/>
<path d="M1553.2,398.2 1565.2,410.1 1589.2,434.6 1598.4,443.9 1603.6,448.8 1608.8,453.5 1614.1,458.1 1618.7,461.9 1624.3,466.1 1630.9,470.6 1637.6,474.9 1644.4,479 1651.4,482.8 1658.5,486.3 1665.8,489.6 1674.1,493 1682.5,496.1 1691,498.9 1699.6,501.5 1709.3,504 1718.1,506 1727.9,507.9 1737.8,509.5 1748.7,511 1758.8,512.1 1769.8,513.1 1780.9,513.8 1793,514.4 1806.2,514.8 1819.3,515 1833.3,515 1850.9,514.8"/>
<path d="M1777.6,448.4 1795.8,439.5 1804,435.3 1811.2,431.5 1818.3,427.7 1825.3,423.6 1832.3,419.5 1838.3,415.8 1844.3,411.9 1850.1,408 1855.9,403.9 1861.6,399.7 1867.2,395.3 1872.6,390.8 1877.2,386.9 1882.4,382.2"/>
<path d="M1777.6,474.4 1851.4,496.3"/>
<path d="M1912.8,372.8 1919.4,388.6 1926.9,406.2 1950.8,460.2 1958.8,478.6 1965.5,494.3 1982.2,534.5 1987.9,547.6 1992.5,557.7 1995.1,563.2 1997.9,568.5 2000.9,573.6 2003.5,577.8 2006.4,581.7 2009.4,585.5 2012.7,589 2015.8,591.9"/>
<path d="M2123.2,548.4 2201.6,526.8"/>
<path d="M2140.6,561 2199,561"/>
<path d="M2117.4,573.8 2200.9,595.6"/>
<path d="M2120.3,574.8 2130.4,579.5 2134,581.3 2137.5,583.2 2141,585.2 2143.4,586.8 2145.8,588.5 2148.1,590.4 2150.2,592.3 2152.3,594.4 2156.2,598.8 2160.6,604.3 2168.3,614.9 2172,619.7 2175.8,624.4 2179.9,628.8 2184.2,632.9 2186.5,634.9 2188.8,636.7 2193.8,640.1 2199.8,643.6"/>
<path d="M2117.4,599.4 2123.4,595.7 2130.2,591.3 2135.8,587.1 2142.1,582.2 2149.7,575.6 2157,568.7 2164,561.4 2175.6,548.9 2179.2,545.3 2182.8,542 2187.4,538.2 2191.4,535.3 2196.5,532.2 2202.4,528.9"/>
<path d="M2126,599.4 2201.7,577.7"/>
<path d="M2128.6,611.7 2193.2,611.7"/>
<path d="M2121.7,624.3 2196.6,646"/>
<path d="M2094.2,675.1 2108.1,665 2113.7,660.7 2119.2,656.3 2124.7,651.8 2129.3,647.9 2134.5,643.1 2138.8,639 2145.1,632.5 2150.5,626.5 2155.6,620.2 2165.4,607.2 2169.8,601.7 2174.3,596.4 2177.1,593.6 2179.3,591.6 2181.5,589.7 2183.8,587.9 2186.2,586.2 2189.5,584.1 2192.1,582.6 2195.6,580.8 2198.3,579.5 2201.8,578"/>
<path d="M2102.9,675.1 2209.4,629.8"/>
<path d="M2125.7,680.9 2176.4,674"/>
<path d="M2125.7,694.6 2189,703"/>
<path d="M2102.9,700.6 2209.4,746"/>
</g>
<g fill="#191970" stroke="#191970" stroke-width="1.33">
<polygon points="645.5,137.3 632.7,143.2 631.8,133.9"/>
<polygon points="335.1,287.1 322.3,293 321.4,283.7"/>
<polygon points="327.1,335.4 314.1,340.9 313.5,331.6"/>
<polygon points="154.8,394.7 142.3,401.3 140.9,392.1"/>
<polygon points="489.4,392.7 476.6,398.6 475.7,389.3"/>
<polygon points="201.4,636.4 190.3,627.7 198.1,622.7"/>
<polygon points="499.5,819.7 485.6,822 487.2,812.8"/>
<polygon points="1366.1,347.4 1369.4,361.1 1360.1,360.2"/>
<polygon points="488.1,283.9 474.8,288.6 474.8,279.2"/>
<polygon points="525.9,372.5 513,366.8 519.3,360"/>
<polygon points="1336,321.8 1322.1,319.6 1326.5,311.3"/>
<polygon points="1071.2,494.9 1061.8,484.4 1070.4,480.8"/>
<polygon points="701,145 694.1,157.3 687.9,150.3"/>
<polygon points="1319.6,324.4 1305.8,327.2 1307,317.9"/>
<polygon points="1073.5,494.9 1067.9,481.9 1077.2,481.3"/>
<polygon points="702,596.5 691.1,587.5 699.1,582.7"/>
<polygon points="672.9,402.7 659.1,405.6 660.3,396.3"/>
<polygon points="693.8,471.3 679.9,468.6 684.7,460.5"/>
<polygon points="317,648.9 303.7,653.6 303.7,644.2"/>
<polygon points="680.3,867.5 667.3,873 666.7,863.6"/>
<polygon points="403.4,636.8 403.2,622.7 412.1,625.7"/>
<polygon points="673.2,412.7 660.9,419.7 659.3,410.5"/>
<polygon points="645.8,482.2 632.8,487.6 632.2,478.3"/>
<polygon points="1053.6,510 1040.8,516 1039.9,506.7"/>
<polygon points="667.3,615.2 654.6,621.3 653.5,612.1"/>
<polygon points="658.4,658.3 644.9,662.6 645.2,653.2"/>
<polygon points="661.1,701.3 647.1,703.4 648.9,694.3"/>
<polygon points="670.9,748.8 656.8,749 659.7,740.2"/>
<polygon points="527.5,811.8 515,805.1 521.9,798.8"/>
<polygon points="670.6,1105.5 656.6,1103.4 661,1095.1"/>
<polygon points="568.4,812.4 568.8,798.3 577.5,801.6"/>
<polygon points="699,496.8 693,509.6 686.3,503.1"/>
<polygon points="667.3,621.8 657.9,632.3 653.4,624.1"/>
<polygon points="667.4,672.6 656.7,681.9 653.3,673.2"/>
<polygon points="671.8,723.7 662,733.9 657.8,725.6"/>
<polygon points="681.7,773.9 670.8,782.8 667.6,774"/>
<polygon points="866.4,618.5 856.5,628.5 852.4,620.1"/>
<polygon points="680.3,854 666.3,856 668.1,846.8"/>
<polygon points="1074.8,520.8 1078.3,534.5 1069,533.7"/>
<polygon points="681,950.9 666.9,949.7 670.8,941.2"/>
<polygon points="675.5,1004.6 661.4,1003.3 665.3,994.8"/>
<polygon points="665,1052.5 651.4,1048.7 656.7,1041.1"/>
<polygon points="670.6,1104.5 656.8,1101.7 661.5,1093.7"/>
<polygon points="2070.3,700.8 2072.3,714.8 2063.1,712.9"/>
<polygon points="871.2,131.9 857.9,136.6 857.9,127.3"/>
<polygon points="746.2,396.3 745.2,382.2 754.2,384.7"/>
<polygon points="840.1,423.5 826.3,426.5 827.5,417.2"/>
<polygon points="746,471.2 747,457.1 755.6,460.8"/>
<polygon points="870.1,446.2 858.3,454 856,444.9"/>
<polygon points="746.2,596.5 745.4,582.4 754.4,585"/>
<polygon points="866.4,609.4 853.1,614.1 853.1,604.7"/>
<polygon points="1054,514.6 1042.2,522.4 1039.9,513.3"/>
<polygon points="869.6,672.8 859.3,682.5 855.5,674"/>
<polygon points="868.8,774.3 858.4,783.8 854.7,775.2"/>
<polygon points="873.7,823.5 862,831.5 859.6,822.5"/>
<polygon points="1074.2,520.8 1075.2,534.9 1066.2,532.4"/>
<polygon points="1893,524.6 1888.5,538 1881.1,532.2"/>
<polygon points="880.3,970.5 868.6,978.4 866.2,969.4"/>
<polygon points="866.1,1042.9 855.9,1052.7 852,1044.2"/>
<polygon points="855.7,1097.5 843.1,1103.9 841.9,1094.6"/>
<polygon points="1484.3,131.9 1471,136.6 1471,127.3"/>
<polygon points="1495.6,200.3 1481.7,202.9 1483.1,193.7"/>
<polygon points="1521.8,372.8 1508.2,368.9 1513.6,361.3"/>
<polygon points="1076,494.9 1067.8,483.4 1076.8,480.8"/>
<polygon points="1898.1,346.9 1888,337 1896.4,332.9"/>
<polygon points="2071,548.4 2064.3,536 2073.5,534.5"/>
<polygon points="1066.5,520.8 1061,533.8 1054.1,527.5"/>
<polygon points="1073.4,520.8 1072.9,534.9 1064.2,531.5"/>
<polygon points="1090.1,494.9 1092.7,481 1100.8,485.7"/>
<polygon points="1193.9,470.4 1182.6,478.9 1179.8,470"/>
<polygon points="1156.3,517.1 1142.9,521.5 1143.1,512.1"/>
<polygon points="1097.5,494.4 1107.6,484.6 1111.6,493.1"/>
<polygon points="1103.5,500.1 1116.7,495 1117,504.3"/>
<polygon points="1351.2,347.4 1343.8,359.4 1337.9,352.1"/>
<polygon points="1098.1,494.4 1098.4,480.3 1107.1,483.5"/>
<polygon points="1518.3,144.8 1508.9,155.3 1504.4,147.1"/>
<polygon points="1522.9,220.8 1515.2,232.7 1509.5,225.3"/>
<polygon points="1497.8,372.5 1483.7,373.2 1486.4,364.2"/>
<polygon points="1853.7,355.5 1840.1,359.3 1840.7,349.9"/>
<polygon points="2008.4,562.5 1995.1,567.2 1995.1,557.8"/>
<polygon points="1853.7,363.2 1840.7,368.8 1840.1,359.5"/>
<polygon points="1692.2,404.7 1678.4,407.7 1679.6,398.4"/>
<polygon points="1694.2,448.4 1680.1,447.7 1683.6,439.1"/>
<polygon points="1864.2,514.6 1850.9,519.5 1850.8,510.2"/>
<polygon points="1891.9,372.8 1885.7,385.5 1879.1,378.8"/>
<polygon points="1864.2,500.1 1850.1,500.8 1852.7,491.8"/>
<polygon points="2026.8,599.4 2013.2,595.8 2018.4,588"/>
<polygon points="2214.5,523.3 2202.9,531.3 2200.4,522.3"/>
<polygon points="2212.3,561 2199,565.7 2199,556.3"/>
<polygon points="2213.8,599 2199.7,600.1 2202.1,591.1"/>
<polygon points="2211.6,649.7 2197.6,647.7 2201.9,639.4"/>
<polygon points="2214.5,523.3 2204.4,533.2 2200.4,524.7"/>
<polygon points="2214.5,574 2203,582.2 2200.4,573.2"/>
<polygon points="2206.5,611.7 2193.2,616.4 2193.2,607"/>
<polygon points="2209.4,649.7 2195.3,650.5 2197.9,641.5"/>
<polygon points="2214.5,574 2203.2,582.5 2200.4,573.6"/>
<polygon points="2221.7,624.6 2211.3,634.1 2207.6,625.5"/>
<polygon points="2189.6,672.2 2177,678.6 2175.8,669.4"/>
<polygon points="2202.2,704.8 2188.4,707.7 2189.6,698.4"/>
<polygon points="2221.7,751.2 2207.6,750.3 2211.3,741.7"/>
</g>
<rect x="5.6" y="397.9" width="101" height="25.4" fill="#bfbfbf" stroke="#000" stroke-width="1.33"/>
<text x="15.1" y="413.7" textLength="80.7" lengthAdjust="spacingAndGlyphs">attempt_jump</text>
<rect x="155" y="372.8" width="113.9" height="24.9" fill="#fff" stroke="#000" stroke-width="1.33"/>
<text x="164.2" y="388.4" textLength="92.8" lengthAdjust="spacingAndGlyphs">esrv_map_scroll</text>
<rect x="335.5" y="271.5" width="86.2" height="24.8" fill="#fff" stroke="#000" stroke-width="1.33"/>
<text x="346.3" y="287.1" textLength="64.1" lengthAdjust="spacingAndGlyphs">skill_attack</text>
<rect x="327.6" y="322.3" width="102.2" height="24.4" fill="#fff" stroke="#000" stroke-width="1.33"/>
<text x="337.1" y="337.7" textLength="81.8" lengthAdjust="spacingAndGlyphs">calc_skill_exp</text>
<rect x="171.7" y="637.3" width="80.4" height="24.4" fill="#fff" stroke="#000" stroke-width="1.33"/>
<text x="182.3" y="652.7" textLength="59.5" lengthAdjust="spacingAndGlyphs">stop_jump</text>
<rect x="317.7" y="637.3" width="121.8" height="24.4" fill="#fff" stroke="#ff0000" stroke-width="1.33"/>
<text x="327.5" y="652.7" textLength="102.2" lengthAdjust="spacingAndGlyphs">insert_ob_in_map</text>
<rect x="488.8" y="271.5" width="107.2" height="24.8" fill="#fff" stroke="#ff0000" stroke-width="1.33"/>
<text x="498.2" y="287.1" textLength="86.2" lengthAdjust="spacingAndGlyphs">do_skill_attack</text>
<rect x="490.1" y="373" width="105.2" height="24.6" fill="#fff" stroke="#000" stroke-width="1.33"/>
<text x="500.3" y="388.4" textLength="84.4" lengthAdjust="spacingAndGlyphs">get_map_flags</text>
<rect x="500.3" y="813" width="84.7" height="24.8" fill="#fff" stroke="#000" stroke-width="1.33"/>
<text x="510.6" y="828.5" textLength="64.3" lengthAdjust="spacingAndGlyphs">remove_ob</text>
<rect x="646.2" y="119.7" width="144.8" height="24.6" fill="#fff" stroke="#000" stroke-width="1.33"/>
<text x="656.2" y="135.1" textLength="123.2" lengthAdjust="spacingAndGlyphs">draw_ext_info_format</text>
<rect x="673.6" y="397" width="90.3" height="24.8" fill="#fff" stroke="#000" stroke-width="1.33"/>
<text x="682.9" y="412.6" textLength="69.9" lengthAdjust="spacingAndGlyphs">out_of_map</text>
<rect x="647" y="471.9" width="143.1" height="24.3" fill="#fff" stroke="#000" stroke-width="1.33"/>
<text x="656.1" y="487.2" textLength="123.2" lengthAdjust="spacingAndGlyphs">get_map_from_coord</text>
<rect x="667.8" y="597" width="101.7" height="24.8" fill="#fff" stroke="#ff0000" stroke-width="1.33"/>
<text x="677.6" y="612.5" textLength="81" lengthAdjust="spacingAndGlyphs">update_object</text>
<rect x="659" y="647.7" width="119.3" height="24.6" fill="#fff" stroke="#000" stroke-width="1.33"/>
<text x="669.4" y="663.2" textLength="98.2" lengthAdjust="spacingAndGlyphs">stringbuffer_finish</text>
<rect x="661.6" y="698.2" width="114.1" height="24.7" fill="#fff" stroke="#ff0000" stroke-width="1.33"/>
<text x="672.5" y="713.7" textLength="91.4" lengthAdjust="spacingAndGlyphs">stringbuffer_new</text>
<rect x="667" y="749.1" width="103.2" height="24.7" fill="#fff" stroke="#000" stroke-width="1.33"/>
<text x="676.8" y="764.6" textLength="82.9" lengthAdjust="spacingAndGlyphs">update_all_los</text>
<rect x="681" y="850.1" width="75.1" height="24.8" fill="#fff" stroke="#ff0000" stroke-width="1.33"/>
<text x="690.9" y="865.7" textLength="53.2" lengthAdjust="spacingAndGlyphs">fix_object</text>
<rect x="671.7" y="951.6" width="94.2" height="24.7" fill="#fff" stroke="#000" stroke-width="1.33"/>
<text x="681" y="967.1" textLength="74.5" lengthAdjust="spacingAndGlyphs">ob_move_on</text>
<rect x="675.9" y="1002.2" width="85.8" height="24.8" fill="#fff" stroke="#000" stroke-width="1.33"/>
<text x="686.2" y="1017.8" textLength="63.4" lengthAdjust="spacingAndGlyphs">sub_weight</text>
<rect x="648.1" y="1053" width="141" height="24.7" fill="#fff" stroke="#000" stroke-width="1.33"/>
<text x="658.1" y="1068.5" textLength="120.5" lengthAdjust="spacingAndGlyphs">get_player_container</text>
<rect x="671.2" y="1103.9" width="94.9" height="24.6" fill="#fff" stroke="#000" stroke-width="1.33"/>
<text x="680.1" y="1119.4" textLength="74.6" lengthAdjust="spacingAndGlyphs">dump_object</text>
<rect x="871.9" y="119.6" width="101" height="24.8" fill="#fff" stroke="#000" stroke-width="1.33"/>
<text x="882.3" y="135.1" textLength="79.6" lengthAdjust="spacingAndGlyphs">draw_ext_info</text>
<rect x="840.8" y="421" width="163.7" height="24.7" fill="#fff" stroke="#ff0000" stroke-width="1.33"/>
<text x="850.7" y="436.5" textLength="142.9" lengthAdjust="spacingAndGlyphs">load_and_link_tiled_map</text>
<rect x="867.1" y="597" width="111.1" height="24.8" fill="#fff" stroke="#ff0000" stroke-width="1.33"/>
<text x="876.9" y="612.5" textLength="90.4" lengthAdjust="spacingAndGlyphs">update_position</text>
<rect x="859.8" y="647.7" width="125.7" height="24.6" fill="#fff" stroke="#000" stroke-width="1.33"/>
<text x="869.1" y="663.2" textLength="105.7" lengthAdjust="spacingAndGlyphs">change_attr_value</text>
<rect x="856" y="749.1" width="132.9" height="24.7" fill="#fff" stroke="#ff0000" stroke-width="1.33"/>
<text x="866.2" y="764.6" textLength="112.5" lengthAdjust="spacingAndGlyphs">check_stat_bounds</text>
<rect x="874.4" y="799.9" width="96.5" height="24.5" fill="#fff" stroke="#000" stroke-width="1.33"/>
<text x="884.3" y="815.3" textLength="75.1" lengthAdjust="spacingAndGlyphs">add_refcount</text>
<rect x="881" y="951.6" width="83.3" height="24.7" fill="#fff" stroke="#000" stroke-width="1.33"/>
<text x="890" y="967.1" textLength="63.6" lengthAdjust="spacingAndGlyphs">get_ob_diff</text>
<rect x="856.2" y="1003" width="132.8" height="39.3" fill="#fff" stroke="#ff0000" stroke-width="1.33"/>
<text x="867.3" y="1018.5" textLength="111.2" lengthAdjust="spacingAndGlyphs">stringbuffer_append</text>
<text x="903.4" y="1032.9" textLength="35.5" lengthAdjust="spacingAndGlyphs">_printf</text>
<rect x="856.2" y="1068.3" width="132.8" height="39.2" fill="#fff" stroke="#ff0000" stroke-width="1.33"/>
<text x="867.3" y="1083.8" textLength="111.2" lengthAdjust="spacingAndGlyphs">stringbuffer_append</text>
<text x="903.4" y="1098.1" textLength="37.8" lengthAdjust="spacingAndGlyphs">_string</text>
<rect x="1054.1" y="495.6" width="48.9" height="24.6" fill="#fff" stroke="#000" stroke-width="1.33"/>
<text x="1064.9" y="511" textLength="27.2" lengthAdjust="spacingAndGlyphs">LOG</text>
<rect x="1152.9" y="445.1" width="118.2" height="24.7" fill="#fff" stroke="#ff0000" stroke-width="1.33"/>
<text x="1162.2" y="460.6" textLength="96.4" lengthAdjust="spacingAndGlyphs">emergency_save</text>
<rect x="1157" y="495.7" width="109.8" height="24.6" fill="#fff" stroke="#ff0000" stroke-width="1.33"/>
<text x="1166.1" y="511.1" textLength="90.7" lengthAdjust="spacingAndGlyphs">clean_tmp_files</text>
<rect x="1320.3" y="322.4" width="100.6" height="24.6" fill="#fff" stroke="#000" stroke-width="1.33"/>
<text x="1330.3" y="337.8" textLength="79.5" lengthAdjust="spacingAndGlyphs">draw_ext_info</text>
<rect x="1485" y="119.7" width="112.7" height="24.6" fill="#fff" stroke="#000" stroke-width="1.33"/>
<text x="1495.2" y="135.1" textLength="91.3" lengthAdjust="spacingAndGlyphs">strip_media_tag</text>
<rect x="1496.3" y="195.6" width="89.8" height="24.6" fill="#fff" stroke="#000" stroke-width="1.33"/>
<text x="1507.1" y="211.1" textLength="69.4" lengthAdjust="spacingAndGlyphs">strdup_local</text>
<rect x="1469.4" y="373" width="143.7" height="24.6" fill="#fff" stroke="#000" stroke-width="1.33"/>
<text x="1479.1" y="388.4" textLength="123.7" lengthAdjust="spacingAndGlyphs">check_output_buffers</text>
<rect x="1692.9" y="398.3" width="81" height="24.7" fill="#fff" stroke="#ff0000" stroke-width="1.33"/>
<text x="1702.1" y="413.8" textLength="60.5" lengthAdjust="spacingAndGlyphs">add_string</text>
<rect x="1661.6" y="449.1" width="143.3" height="24.7" fill="#fff" stroke="#ff0000" stroke-width="1.33"/>
<text x="1671.8" y="464.6" textLength="121.4" lengthAdjust="spacingAndGlyphs">flush_output_element</text>
<rect x="1854.4" y="347.6" width="104.7" height="24.7" fill="#fff" stroke="#000" stroke-width="1.33"/>
<text x="1864.8" y="363.1" textLength="83.1" lengthAdjust="spacingAndGlyphs">print_message</text>
<rect x="1865.8" y="499.6" width="82" height="24.6" fill="#fff" stroke="#000" stroke-width="1.33"/>
<text x="1875.8" y="515" textLength="60.6" lengthAdjust="spacingAndGlyphs">free_string</text>
<rect x="2009.1" y="548.9" width="130.9" height="24.6" fill="#fff" stroke="#000" stroke-width="1.33"/>
<text x="2018.3" y="564.4" textLength="110.9" lengthAdjust="spacingAndGlyphs">esrv_print_ext_msg</text>
<rect x="2021" y="599.6" width="107" height="24.6" fill="#fff" stroke="#000" stroke-width="1.33"/>
<text x="2030.2" y="615" textLength="87.1" lengthAdjust="spacingAndGlyphs">esrv_print_msg</text>
<rect x="2024.3" y="675.6" width="100.8" height="24.6" fill="#fff" stroke="#000" stroke-width="1.33"/>
<text x="2034.3" y="691" textLength="80.4" lengthAdjust="spacingAndGlyphs">esrv_del_item</text>
<rect x="2194.9" y="498.2" width="132.8" height="24.8" fill="#fff" stroke="#ff0000" stroke-width="1.33"/>
<text x="2205.2" y="513.8" textLength="110" lengthAdjust="spacingAndGlyphs">SockList_AddPrintf</text>
<rect x="2213" y="548.9" width="96.5" height="24.6" fill="#fff" stroke="#ff0000" stroke-width="1.33"/>
<text x="2223.3" y="564.4" textLength="73.9" lengthAdjust="spacingAndGlyphs">SockList_Init</text>
<rect x="2207.2" y="599.6" width="108.6" height="24.6" fill="#fff" stroke="#000" stroke-width="1.33"/>
<text x="2217.1" y="615" textLength="87.1" lengthAdjust="spacingAndGlyphs">SockList_Term</text>
<rect x="2190.3" y="650.3" width="141.7" height="24.6" fill="#fff" stroke="#ff0000" stroke-width="1.33"/>
<text x="2200.8" y="665.8" textLength="120.6" lengthAdjust="spacingAndGlyphs">Send_With_Handling</text>
<rect x="2202.9" y="701" width="116.8" height="24.7" fill="#fff" stroke="#ff0000" stroke-width="1.33"/>
<text x="2213.2" y="716.5" textLength="93.9" lengthAdjust="spacingAndGlyphs">SockList_AddInt</text>
<rect x="2193.7" y="751.7" width="135.4" height="24.6" fill="#fff" stroke="#ff0000" stroke-width="1.33"/>
<text x="2203.7" y="767.2" textLength="114.5" lengthAdjust="spacingAndGlyphs">SockList_AddString</text>
</svg></body></html>
